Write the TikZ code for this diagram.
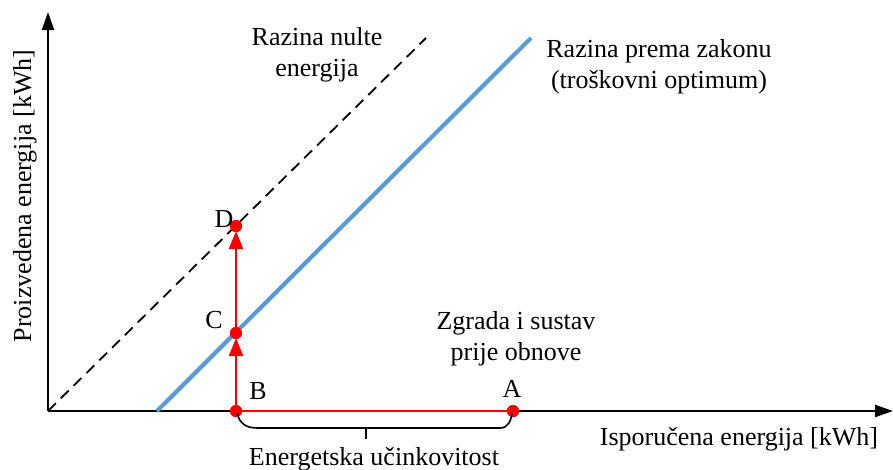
\documentclass[tikz,border=0pt]{standalone}
\usepackage{fontspec}
\setmainfont{Liberation Serif}
\usetikzlibrary{arrows.meta}
\definecolor{lineblue}{RGB}{91,155,213}
\tikzset{
  lbl/.style={font=\fontsize{26}{31}\selectfont, inner sep=0pt, anchor=base, align=center},
  axis/.style={line width=2pt, -{Triangle[length=18pt,width=12pt]}},
  dot/.style={circle, fill=red, inner sep=0pt, minimum size=12pt},
  redline/.style={red, line width=2.5pt},
  redarrow/.style={red, line width=2.5pt, -{Triangle[length=18pt,width=14pt]}, shorten >=5pt},
}
\begin{document}
\begin{tikzpicture}[x=1pt,y=-1pt]
\useasboundingbox (0,0) rectangle (893,469);
% axes
\coordinate (O) at (48,411);
\coordinate (Ytop) at (48,12);
\coordinate (Xend) at (893,411);
\draw[axis] (O) -- (Ytop);
\draw[axis] (O) -- (Xend);
% lines
\coordinate (Zs) at (48,411);
\coordinate (Ze) at (426,38);
\coordinate (Ls) at (157,411);
\coordinate (Le) at (531,38);
\draw[line width=1.8pt, dash pattern=on 11pt off 7pt] (Zs) -- (Ze);
\draw[lineblue, line width=4.2pt] (Ls) -- (Le);
% points
\node[dot] (B) at (236,411) {};
\node[dot] (A) at (513,411) {};
\node[dot] (C) at (236,333) {};
\node[dot] (D) at (236,226) {};
\draw[redline] (B.center) -- (A.center);
\draw[redarrow] (B.center) -- (C.center);
\draw[redarrow] (C.center) -- (D.center);
\node[dot] at (B) {};
\node[dot] at (A) {};
\node[dot] at (C) {};
\node[dot] at (D) {};
% brace
\coordinate (BrL) at (237,413);
\coordinate (BrR) at (512,413);
\coordinate (BrM) at (366,428);
\coordinate (BrT) at (366,439);
\draw[line width=1.6pt] (BrL) .. controls (240,424) and (246,428) .. (258,428) -- (BrM) -- (500,428) .. controls (508,428) and (511,421) .. (BrR);
\draw[line width=1.6pt] (BrM) -- (BrT);
% labels
\node[lbl] (lA) at (512,397) {A};
\node[lbl] (lB) at (258,399) {B};
\node[lbl] (lC) at (214,328) {C};
\node[lbl] (lD) at (224,227) {D};
\node[lbl] (zero) at (317,76) {Razina nulte\\energija};
\node[lbl] (law) at (659,88) {Razina prema zakonu\\(troškovni optimum)};
\node[lbl] (before) at (516,360) {Zgrada i sustav\\prije obnove};
\node[lbl] (eff) at (374,465) {Energetska učinkovitost};
\node[lbl] (xl) at (739,445) {Isporučena energija [kWh]};
\node[lbl, rotate=90] (yl) at (31,196) {Proizvedena energija [kWh]};
\end{tikzpicture}
\end{document}
